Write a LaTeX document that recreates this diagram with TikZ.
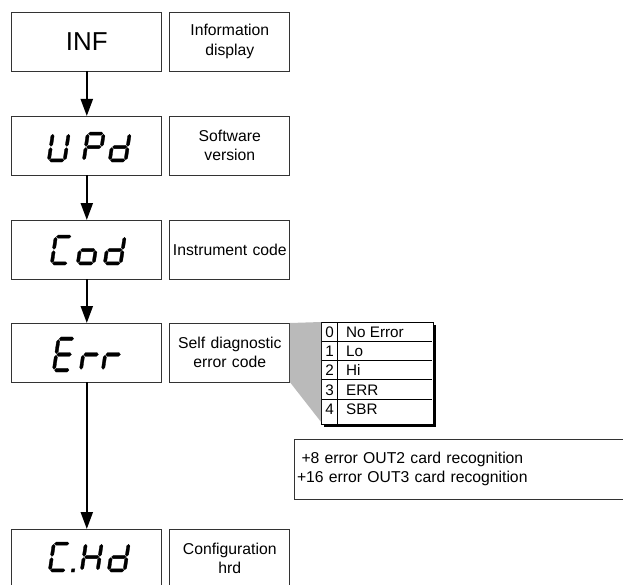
\documentclass[tikz,border=0pt]{standalone}
\usepackage{fontspec}
\setmainfont{Liberation Sans}
\usetikzlibrary{arrows.meta,positioning,shadows}

\tikzset{
  display/.style = {rectangle, draw=black!80, line width=0.9bp, minimum width=150bp,
    minimum height=59bp, inner sep=0pt, outer sep=0pt, font=\fontsize{26}{30}\selectfont},
  infobox/.style = {rectangle, draw=black!80, line width=0.9bp, minimum width=120bp,
    minimum height=59bp, text width=118bp, inner sep=1bp, outer sep=0pt, align=center,
    font=\fontsize{15.8}{19.5}\selectfont},
  codetable/.style = {rectangle, draw=black, line width=0.9bp, fill=white,
    minimum width=112bp, minimum height=102.5bp, inner sep=0pt, outer sep=0pt,
    drop shadow={shadow xshift=2.8bp, shadow yshift=-2.8bp, fill=black, opacity=1}},
  cell/.style = {inner sep=0pt, text height=10.8bp, text depth=0bp,
    font=\fontsize{15.3}{18}\selectfont},
  rowline/.style = {draw=black, line width=0.8bp},
  notebox/.style = {rectangle, draw=black!80, line width=0.9bp, minimum width=330bp,
    minimum height=60bp, text width=324bp, inner xsep=3bp, outer sep=0pt, align=left,
    font=\fontsize{15.8}{19}\selectfont},
  flow/.style = {->, line width=2.2bp},
  segment/.style = {fill=black, draw=black, line width=0.3bp, line join=miter}
}

% seven segment display: a top, b/c right, d bottom, e/f left, g middle, p point
% each segment is a pointed bar, half thickness 1.6
\def\sega{(2.3,28.4) -- (3.9,30) -- (15.1,30) -- (16.7,28.4) -- (15.1,26.8) -- (3.9,26.8) -- cycle}
\def\segb{(17.4,27.7) -- (19,26.1) -- (19,17.3) -- (17.4,15.7) -- (15.8,17.3) -- (15.8,26.1) -- cycle}
\def\segc{(17.4,14.3) -- (19,12.7) -- (19,3.9) -- (17.4,2.3) -- (15.8,3.9) -- (15.8,12.7) -- cycle}
\def\segd{(2.3,1.6) -- (3.9,3.2) -- (15.1,3.2) -- (16.7,1.6) -- (15.1,0) -- (3.9,0) -- cycle}
\def\sege{(1.6,14.3) -- (3.2,12.7) -- (3.2,3.9) -- (1.6,2.3) -- (0,3.9) -- (0,12.7) -- cycle}
\def\segf{(1.6,27.7) -- (3.2,26.1) -- (3.2,17.3) -- (1.6,15.7) -- (0,17.3) -- (0,26.1) -- cycle}
\def\segg{(2.3,15) -- (3.9,16.6) -- (15.1,16.6) -- (16.7,15) -- (15.1,13.4) -- (3.9,13.4) -- cycle}
\def\segp{(23.2,0) rectangle (26.4,3.2)}

\newcommand{\segglyph}[3][]{%
  \begin{scope}[shift={#2}, xslant=0.15, x=1bp, y=1bp, #1]
    \foreach \s in {#3} {\filldraw[segment] \csname seg\s\endcsname;}
  \end{scope}}

\begin{document}
\begin{tikzpicture}[x=1bp, y=-1bp, >={Triangle[length=17bp,width=12bp]}]
  \useasboundingbox (0,0) rectangle (623,585);

  \node[display]                    (inf) at (86.8,41.5) {INF};
  \node[display, below=45bp of inf] (upd) {};
  \node[display, below=45bp of upd] (cod) {};
  \node[display, below=44bp of cod] (err) {};
  \node[display, below=147bp of err] (chd) {};

  \node[infobox, right=8bp of inf] (info) {Information\\display};
  \node[infobox, right=8bp of upd] (soft) {Software\\version};
  \node[infobox, right=8bp of cod] (code) {Instrument code};
  \node[infobox, right=8bp of err] (diag) {Self diagnostic\\error code};
  \node[infobox, right=8bp of chd] (conf) {Configuration\\hrd};

  \draw[flow] (inf) -- (upd);
  \draw[flow] (upd) -- (cod);
  \draw[flow] (cod) -- (err);
  \draw[flow] (err) -- (chd);

  % display readings
  \begin{scope}[shift={(upd.center)}]
    \segglyph{(-39.8,16.5)}{b,c,d,e,f}
    \segglyph{(-4.8,16.5)}{a,b,e,f,g}
    \segglyph{(21.2,16.5)}{b,c,d,e,g}
  \end{scope}
  \begin{scope}[shift={(cod.center)}]
    \segglyph{(-36.8,15.5)}{a,d,e,f}
    \segglyph{(-10.8,15.5)}{c,d,e,g}
    \segglyph{(16.2,15.5)}{b,c,d,e,g}
  \end{scope}
  \begin{scope}[shift={(err.center)}]
    \segglyph[yscale=1.17]{(-34.8,19.5)}{a,d,e,f,g}
    \segglyph[yscale=1.17]{(-7.8,19.5)}{e,g}
    \segglyph[yscale=1.17]{(14.2,19.5)}{e,g}
  \end{scope}
  \begin{scope}[shift={(chd.center)}]
    \segglyph{(-38.8,13.5)}{a,d,e,f,p}
    \segglyph{(-6.8,13.5)}{b,c,e,f,g}
    \segglyph{(20.2,13.5)}{b,c,d,e,g}
  \end{scope}

  % error code table
  \node[codetable, anchor=north west] (codes) at (321.5,322) {};
  \fill[black!27] (diag.north east) -- ([xshift=-0.45bp]codes.north west)
    -- ([xshift=-0.45bp,yshift=2.5bp]codes.south west) -- (diag.south east) -- cycle;
  \draw[rowline] (337.5,322) -- (337.5,424.5);
  \foreach \k in {0,...,3}
    \draw[rowline] (321.5,{341.25+19.25*\k}) -- (432,{341.25+19.25*\k});
  \foreach \k/\txt in {0/No Error,1/Lo,2/Hi,3/ERR,4/SBR} {
    \node[cell] (num\k) at (329.5,{332+19.25*\k}) {\k};
    \node[cell, anchor=west] (txt\k) at (346,{332+19.25*\k}) {\txt};
  }

  \node[notebox, anchor=north west] (note) at (294,439)
    {\hspace*{4.5bp}+8 error OUT2 card recognition\\+16 error OUT3 card recognition};
\end{tikzpicture}
\end{document}
